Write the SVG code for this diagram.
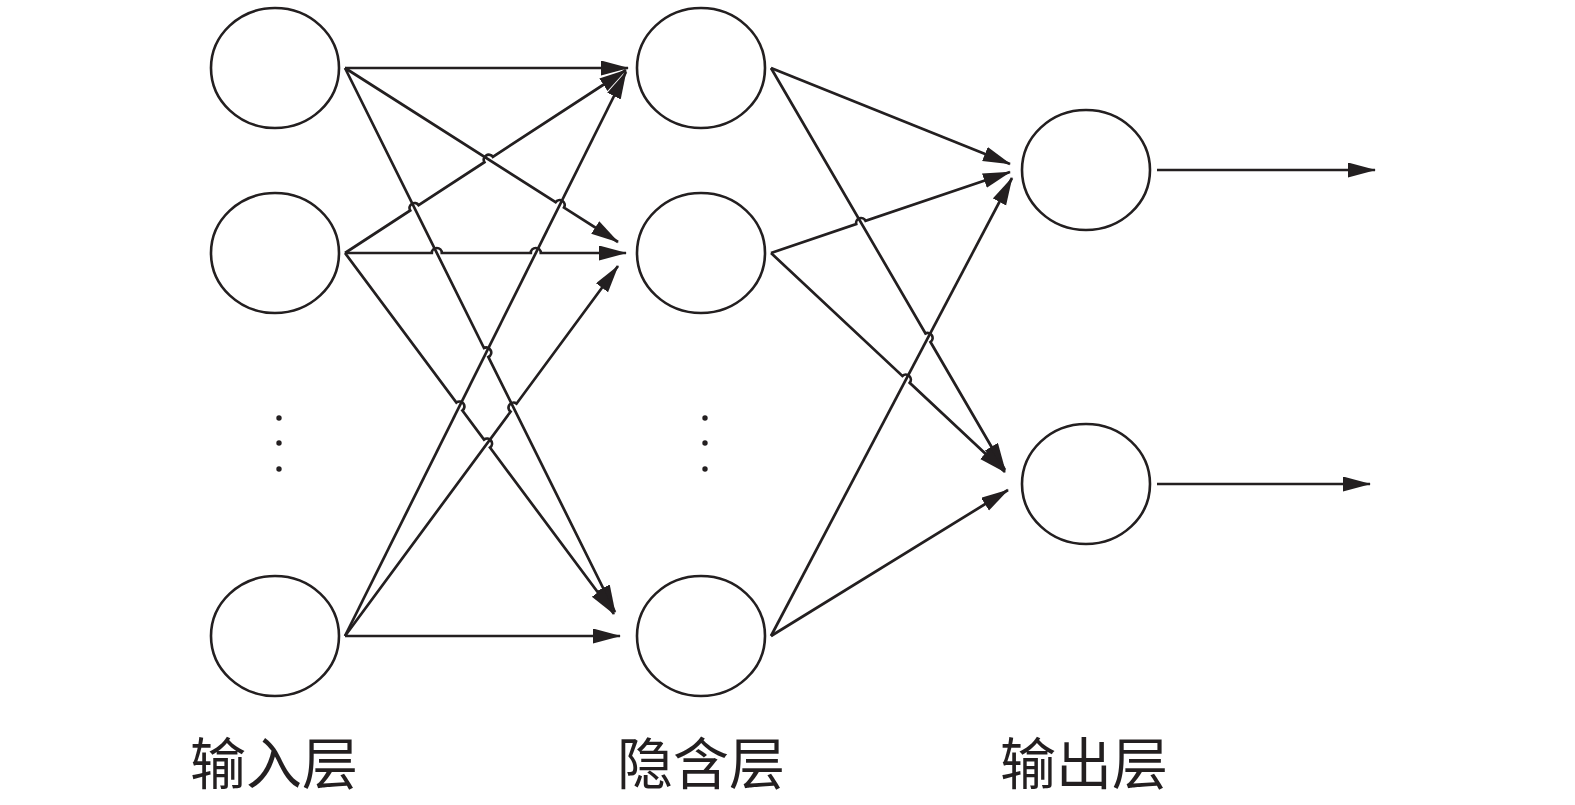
<svg xmlns="http://www.w3.org/2000/svg" width="1575" height="805" viewBox="0 0 1575 805">
<style>
.node{fill:#fff;stroke:#231f20;stroke-width:2.6}
.edge{fill:none;stroke:#231f20;stroke-width:2.7;marker-end:url(#arr)}
.dot{fill:#231f20}
.lbl{font-family:"Noto Sans CJK SC","Noto Sans CJK JP",sans-serif;font-size:56px;fill:#231f20}
</style>
<defs>
<marker id="arr" markerUnits="userSpaceOnUse" markerWidth="30" markerHeight="16" refX="27" refY="7.5" orient="auto">
<path d="M0,0 L28,7.5 L0,15 z" fill="#231f20"/>
</marker>
</defs>
<rect width="1575" height="805" fill="#fff"/>
<g id="connectors">
<path class="edge" d="M345,68 L628,68"/>
<path class="edge" d="M345,68 L555.6,202.2 A5,5 0 0 1 564.0,207.6 L618,242"/>
<path class="edge" d="M345,68 L484.0,348.0 A5,5 0 0 1 488.4,357.0 L615,612"/>
<path class="edge" d="M345,253 L410.2,210.5 A5,5 0 0 1 418.6,205.1 L484.4,162.2 A5,5 0 0 1 492.8,156.8 L626,70"/>
<path class="edge" d="M345,253 L431.8,253 A5,5 0 0 1 441.8,253 L530.8,253 A5,5 0 0 1 540.8,253 L626,253"/>
<path class="edge" d="M345,253 L456.4,402.5 A5,5 0 0 1 462.4,410.5 L484.0,439.6 A5,5 0 0 1 490.0,447.6 L614,614"/>
<path class="edge" d="M345,636 L626,72"/>
<path class="edge" d="M345,636 L510.5,411.7 A5,5 0 0 1 516.5,403.7 L618,266"/>
<path class="edge" d="M345,636 L620,636"/>
<path class="edge" d="M771,68 L1010,164"/>
<path class="edge" d="M771,68 L925.5,333.4 A5,5 0 0 1 930.5,342.0 L1005,470"/>
<path class="edge" d="M771,253 L856.2,224.1 A5,5 0 0 1 865.6,220.9 L1010,172"/>
<path class="edge" d="M771,253 L902.4,376.0 A5,5 0 0 1 909.7,382.8 L1005,472"/>
<path class="edge" d="M771,636 L1012,178"/>
<path class="edge" d="M771,636 L1008,490"/>
<path class="edge" d="M1157,170 L1375,170"/>
<path class="edge" d="M1157,484 L1370,484"/>
</g>
<g id="input1"><ellipse class="node" cx="275" cy="68" rx="64" ry="60"/></g>
<g id="input2"><ellipse class="node" cx="275" cy="253" rx="64" ry="60"/></g>
<g id="input-dots"><circle class="dot" cx="279" cy="418" r="2.7"/><circle class="dot" cx="279" cy="443" r="2.7"/><circle class="dot" cx="279" cy="469" r="2.7"/></g>
<g id="input3"><ellipse class="node" cx="275" cy="636" rx="64" ry="60"/></g>
<g id="hidden1"><ellipse class="node" cx="701" cy="68" rx="64" ry="60"/></g>
<g id="hidden2"><ellipse class="node" cx="701" cy="253" rx="64" ry="60"/></g>
<g id="hidden-dots"><circle class="dot" cx="705" cy="418" r="2.7"/><circle class="dot" cx="705" cy="443" r="2.7"/><circle class="dot" cx="705" cy="469" r="2.7"/></g>
<g id="hidden3"><ellipse class="node" cx="701" cy="636" rx="64" ry="60"/></g>
<g id="output1"><ellipse class="node" cx="1086" cy="170" rx="64" ry="60"/></g>
<g id="output2"><ellipse class="node" cx="1086" cy="484" rx="64" ry="60"/></g>
<g id="labels">
<text class="lbl" x="190" y="784">输入层</text>
<text class="lbl" x="617" y="784">隐含层</text>
<text class="lbl" x="1000" y="784">输出层</text>
</g>
</svg>
